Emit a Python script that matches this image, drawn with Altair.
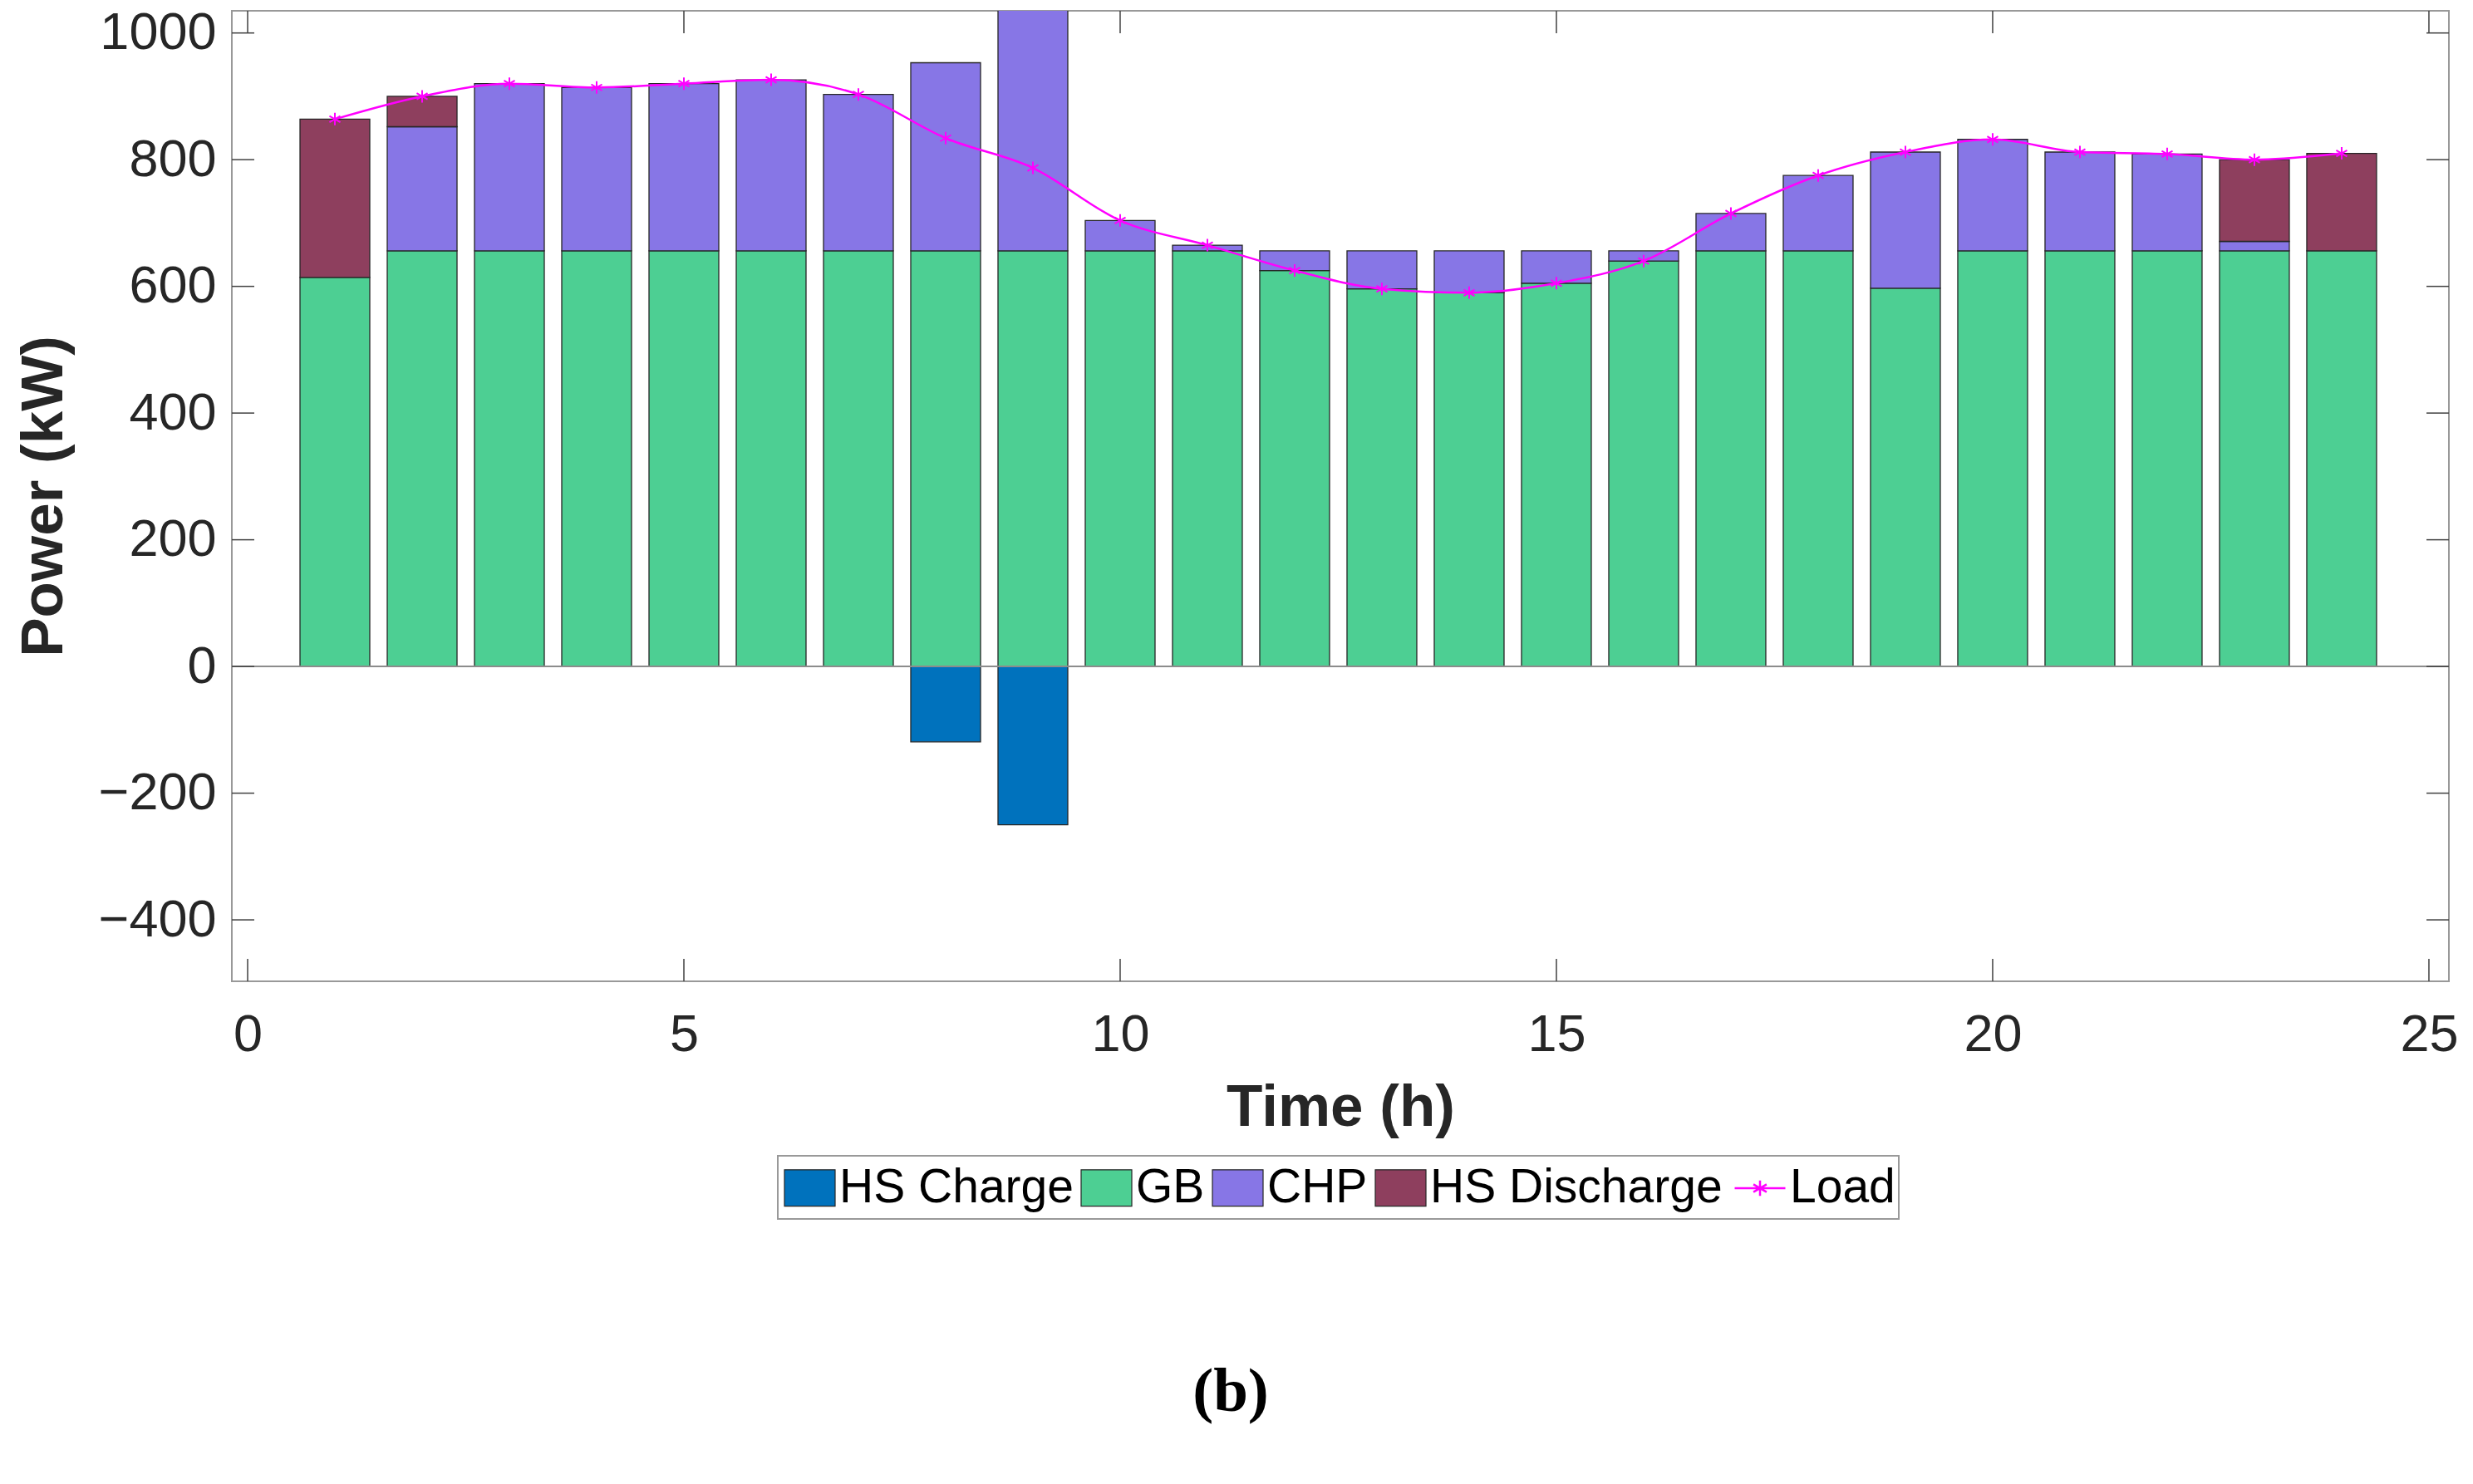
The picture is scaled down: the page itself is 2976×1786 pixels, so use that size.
import altair as alt
import pandas as pd

# ---------------- data ----------------
hours = list(range(1, 25))
gb = [614, 656, 656, 656, 656, 656, 656, 656, 656, 656, 656, 625,
      596, 590, 605, 640, 656, 656, 597, 656, 656, 656, 656, 656]
chp = [0, 196, 264, 258, 264, 270, 247, 297, 381, 48, 9, 31,
       60, 66, 51, 16, 59, 119, 215, 176, 156, 153, 15, 0]
hs_discharge = [250, 48, 0, 0, 0, 0, 0, 0, 0, 0, 0, 0,
                0, 0, 0, 0, 0, 0, 0, 0, 0, 0, 129, 154]
hs_charge = [0, 0, 0, 0, 0, 0, 0, -119, -250, 0, 0, 0,
             0, 0, 0, 0, 0, 0, 0, 0, 0, 0, 0, 0]
load = [864, 900, 920, 914, 920, 926, 903, 834, 787, 704, 665, 625,
        596, 590, 605, 640, 715, 775, 812, 832, 812, 809, 800, 810]

sources = ["HS Charge", "GB", "CHP", "HS Discharge"]
source_colors = ["#0072BD", "#4DCF93", "#8776E6", "#8E3F5E"]
x_ticks = [0, 5, 10, 15, 20, 25]
y_ticks = [-400, -200, 0, 200, 400, 600, 800, 1000]
caption = "(b)"

# ---------------- layout constants ----------------
W, H = 2668, 1168
TL = 27  # inward tick length
BAR_HALF = 0.4

# build stacked bar table (positive stacked from 0 upward, negative downward)
rows = []
for i, h in enumerate(hours):
    pos = 0.0
    for name, series in (("GB", gb), ("CHP", chp), ("HS Discharge", hs_discharge)):
        v = series[i]
        if v > 0:
            rows.append(dict(hour=h, source=name, y0=pos, y1=pos + v,
                             x0=h - BAR_HALF, x1=h + BAR_HALF))
            pos += v
    if hs_charge[i] < 0:
        rows.append(dict(hour=h, source="HS Charge", y0=0, y1=hs_charge[i],
                         x0=h - BAR_HALF, x1=h + BAR_HALF))
bars_df = pd.DataFrame(rows)
load_df = pd.DataFrame({"hour": hours, "load": load, "series": ["Load"] * len(hours)})

xscale = alt.Scale(domain=[-0.181, 25.229], nice=False, zero=False)
yscale = alt.Scale(domain=[-497, 1035], nice=False, zero=False)
xaxis = alt.Axis(values=x_ticks, format="d")
yaxis = alt.Axis(values=y_ticks, format="d")
XT, YT = "Time (h)", "Power (kW)"

rect_path = "M-1,-0.72H1V0.72H-1Z"
ast_path = "M0,-1V1M-0.87,-0.5L0.87,0.5M-0.87,0.5L0.87,-0.5"
load_sym = "M-1,0H1M0,-0.3V0.3M-0.26,-0.15L0.26,0.15M-0.26,0.15L0.26,-0.15"

bars = alt.Chart(bars_df).mark_bar(stroke="#262626", strokeWidth=1.3, clip=True).encode(
    x=alt.X("x0:Q", scale=xscale, axis=xaxis, title=XT),
    x2="x1:Q",
    y=alt.Y("y0:Q", scale=yscale, axis=yaxis, title=YT),
    y2="y1:Q",
    color=alt.Color(
        "source:N",
        scale=alt.Scale(domain=sources, range=source_colors),
        legend=alt.Legend(
            title=None, orient="none", legendX=664, legendY=1385,
            direction="horizontal", columns=4, padding=0,
            labelFont="Liberation Sans", labelFontSize=57, labelColor="#000000",
            labelLimit=0, labelOffset=4, columnPadding=6,
            symbolType=rect_path, symbolSize=3721,
            symbolStrokeColor="#262626", symbolStrokeWidth=1.2, symbolOpacity=1,
        ),
    ),
)

load_legend = alt.Legend(
    title=None, orient="none", legendX=1807, legendY=1385,
    direction="horizontal", columns=1, padding=0,
    labelFont="Liberation Sans", labelFontSize=57, labelColor="#000000",
    labelLimit=0, labelOffset=4,
    symbolType=load_sym, symbolSize=3721, symbolStrokeWidth=2.5,
)
load_color = alt.Color("series:N", scale=alt.Scale(domain=["Load"], range=["#FF00FF"]),
                       legend=load_legend)

load_line = alt.Chart(load_df).mark_line(strokeWidth=2.5, interpolate="monotone").encode(
    x=alt.X("hour:Q", scale=xscale, axis=xaxis, title=XT),
    y=alt.Y("load:Q", scale=yscale, axis=yaxis, title=YT),
    color=load_color,
)
load_pts = alt.Chart(load_df).mark_point(shape=ast_path, size=225, filled=False,
                                         strokeWidth=2, opacity=1).encode(
    x=alt.X("hour:Q", scale=xscale, axis=xaxis, title=XT),
    y=alt.Y("load:Q", scale=yscale, axis=yaxis, title=YT),
    color=load_color,
)
load_layer = alt.layer(load_line, load_pts)

one = pd.DataFrame({"a": [0], "txt": [caption]})
zero_line = alt.Chart(one).mark_rule(color="#8c8c8c", strokeWidth=2).encode(
    y=alt.Y(datum=0, scale=yscale, axis=yaxis, title=YT),
    x=alt.value(0), x2=alt.value(W),
)

xt_df = pd.DataFrame({"t": x_ticks})
yt_df = pd.DataFrame({"t": y_ticks})
tick_style = dict(color="#404040", strokeWidth=1.5)
xb = alt.Chart(xt_df).mark_rule(**tick_style).encode(
    x=alt.X("t:Q", scale=xscale, axis=xaxis, title=XT), y=alt.value(H), y2=alt.value(H - TL))
xtp = alt.Chart(xt_df).mark_rule(**tick_style).encode(
    x=alt.X("t:Q", scale=xscale, axis=xaxis, title=XT), y=alt.value(0), y2=alt.value(TL))
yl = alt.Chart(yt_df).mark_rule(**tick_style).encode(
    y=alt.Y("t:Q", scale=yscale, axis=yaxis, title=YT), x=alt.value(0), x2=alt.value(TL))
yr = alt.Chart(yt_df).mark_rule(**tick_style).encode(
    y=alt.Y("t:Q", scale=yscale, axis=yaxis, title=YT), x=alt.value(W - TL), x2=alt.value(W))

legend_box = alt.Chart(one).mark_rect(fill="white", fillOpacity=0, stroke="#999999",
                                      strokeWidth=2).encode(
    x=alt.value(657), x2=alt.value(2006), y=alt.value(1378), y2=alt.value(1454))

cap = alt.Chart(one).mark_text(font="Liberation Serif", fontWeight="bold", fontSize=75,
                               align="center", baseline="middle", color="#000000").encode(
    x=alt.value(1202), y=alt.value(1662), text="txt:N")

chart = alt.layer(bars, zero_line, load_layer, xb, xtp, yl, yr, legend_box, cap).resolve_scale(
    color="independent"
).properties(
    width=W, height=H,
    autosize=alt.AutoSizeParams(type="none"),
    padding={"left": 271, "top": 5, "right": 21, "bottom": 597},
    background="white",
).configure_view(
    stroke="#999999", strokeWidth=2
).configure_axis(
    grid=False, domain=False, ticks=False, tickSize=0,
    labelFont="Liberation Sans", labelFontSize=63, labelColor="#262626",
    titleFont="Liberation Sans", titleFontSize=71, titleFontWeight="bold",
    titleColor="#262626", labelFlush=False, labelOverlap=False, labelBound=False,
).configure_axisX(
    labelPadding=33, titlePadding=21,
).configure_axisY(
    labelPadding=19, titlePadding=29,
)

chart.save("out.html", embed_options={"renderer": "svg", "actions": False})
